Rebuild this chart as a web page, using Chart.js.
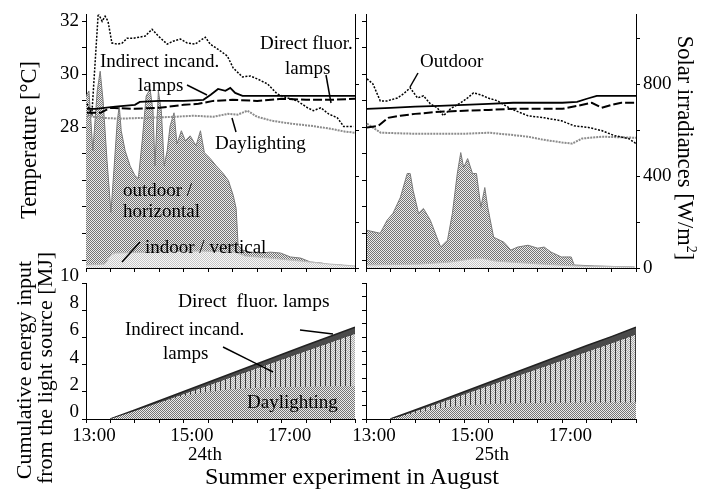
<!DOCTYPE html>
<html><head><meta charset="utf-8">
<script src="https://cdn.jsdelivr.net/npm/chart.js@4"></script>
<style>
html,body{margin:0;padding:0;background:#fff;}
#wrap{position:relative;width:712px;height:490px;overflow:hidden;font-family:"Liberation Serif","Times New Roman",serif;color:#000;background:#fff;}
canvas{position:absolute;left:0;top:0;}
.t{position:absolute;white-space:nowrap;font-size:19px;line-height:1;transform:translate(-50%,-50%);}
.l{position:absolute;white-space:nowrap;font-size:19px;line-height:1;transform:translateY(-50%);}
svg{position:absolute;left:0;top:0;}
</style></head><body>
<div id="wrap">
<canvas id="c1" width="712" height="490"></canvas>
<canvas id="c2" width="712" height="490"></canvas>
<canvas id="c3" width="712" height="490"></canvas>
<canvas id="c4" width="712" height="490"></canvas>
<svg width="712" height="490" viewBox="0 0 712 490">
<g stroke="#000" stroke-width="1.5">
<line x1="187" y1="85" x2="207" y2="95"/>
<line x1="326" y1="75" x2="331" y2="103"/>
<line x1="232" y1="118" x2="236" y2="132"/>
<line x1="418" y1="73" x2="410" y2="87"/>
<line x1="140" y1="242" x2="122" y2="262"/>
<line x1="223" y1="347" x2="273" y2="372"/>
<line x1="300" y1="330" x2="333" y2="334"/>
</g></svg>
<div class="l" style="left:100px;top:60px;">Indirect incand.</div>
<div class="l" style="left:138px;top:84px;">lamps</div>
<div class="l" style="left:260px;top:42px;">Direct fluor.</div>
<div class="l" style="left:285px;top:67px;">lamps</div>
<div class="l" style="left:215px;top:142px;">Daylighting</div>
<div class="l" style="left:420px;top:60px;">Outdoor</div>
<div class="l" style="left:123px;top:189px;">outdoor /</div>
<div class="l" style="left:123px;top:210px;">horizontal</div>
<div class="l" style="left:145px;top:246px;">indoor / vertical</div>
<div class="l" style="left:178px;top:301px;font-size:19.5px;">Direct&nbsp; fluor. lamps</div>
<div class="l" style="left:125px;top:328px;">Indirect incand.</div>
<div class="l" style="left:163px;top:352px;">lamps</div>
<div class="l" style="left:247px;top:401px;">Daylighting</div>
<div class="t" style="left:205px;top:453px;">24th</div>
<div class="t" style="left:492px;top:453px;">25th</div>
<div class="t" style="left:352px;top:476px;font-size:24px;">Summer experiment in August</div>
<div class="t" style="left:29px;top:140px;font-size:22.5px;transform:translate(-50%,-50%) rotate(-90deg);">Temperature [°C]</div>
<div class="t" style="left:24px;top:370px;font-size:22px;transform:translate(-50%,-50%) rotate(-90deg);">Cumulative energy input</div>
<div class="t" style="left:45px;top:368px;font-size:22px;transform:translate(-50%,-50%) rotate(-90deg);">from the light source [MJ]</div>
<div class="t" style="left:686px;top:148px;font-size:22.5px;transform:translate(-50%,-50%) rotate(90deg);">Solar irradiances [W/m<sup style="font-size:14px;vertical-align:9px;">2</sup>]</div>
</div>
<script>
// ---------- data (hours after 13:00) ----------
const outdoorT24 = [0.02,0.12,0.25,0.33,0.39,0.45,0.53,0.64,0.74,0.84,0.96,1.21,1.35,1.48,1.66,1.78,1.93,2.07,2.23,2.44,2.54,2.75,2.89,3.01,3.2,3.36,3.5,3.71,3.91,4.12,4.32,4.53,4.65,4.8,4.96,5.14,5.27,5.47];
const outdoor24 = [28.89,28.51,32.3,32.0,32.19,32.0,31.18,31.14,31.18,31.36,31.36,31.44,31.7,31.44,31.14,31.25,31.33,31.18,31.14,31.4,31.14,30.88,30.69,30.24,29.9,29.94,29.83,29.64,29.26,29.11,29.0,28.74,28.63,28.74,28.51,28.36,28.03,28.03];
const indirectT24 = [0.02,0.2,0.6,1.0,1.1,1.5,2.0,2.4,2.55,2.7,2.85,2.95,3.05,3.2,3.5,4.0,4.5,5.0,5.5];
const indirect24 = [28.7,28.7,28.78,28.85,28.96,29.0,29.0,29.04,29.23,29.45,29.38,29.49,29.3,29.19,29.19,29.19,29.19,29.19,29.19];
const directT24 = [0.02,0.3,0.5,1.0,1.5,2.0,2.3,2.6,3.0,3.5,4.0,4.5,5.0,5.5];
const direct24 = [28.55,28.55,28.74,28.7,28.74,28.85,28.89,29.0,29.04,29.0,29.08,29.04,29.04,29.08];
const dayT24 = [0.02,0.3,0.7,1.2,1.8,2.2,2.6,2.9,3.1,3.3,3.5,3.8,4.2,4.6,5.0,5.3,5.5];
const day24 = [28.44,28.36,28.33,28.36,28.4,28.44,28.4,28.51,28.48,28.63,28.4,28.25,28.14,28.06,27.95,27.84,27.8];

const outdoorT25 = [0.02,0.14,0.29,0.43,0.64,0.76,0.9,1.05,1.17,1.31,1.45,1.58,1.72,1.93,2.07,2.19,2.34,2.48,2.68,2.95,3.3,3.63,3.98,4.24,4.53,4.8,5.06,5.35,5.5];
const outdoor25 = [29.83,29.64,29.0,29.0,29.11,29.26,29.49,29.11,29.19,28.89,28.74,28.44,28.7,28.93,29.11,29.3,29.23,29.11,29.0,28.7,28.44,28.36,28.25,28.06,28.0,27.88,27.69,27.58,27.39];
const indirectT25 = [0.02,0.5,1.0,1.5,2.0,2.5,3.0,3.5,4.0,4.3,4.5,4.7,5.5];
const indirect25 = [28.7,28.74,28.78,28.81,28.85,28.89,28.93,28.93,28.93,28.96,29.08,29.19,29.19];
const directT25 = [0.02,0.25,0.45,0.7,1.0,1.5,2.0,2.5,3.0,3.5,4.0,4.3,4.6,4.8,5.0,5.2,5.5];
const direct25 = [28.0,28.06,28.36,28.44,28.51,28.59,28.63,28.66,28.7,28.7,28.7,28.81,28.93,28.74,28.85,28.93,28.93];
const dayT25 = [0.02,0.3,1.0,2.0,2.5,2.9,3.3,3.6,4.0,4.2,4.4,4.8,5.5];
const day25 = [28.14,27.8,27.76,27.76,27.8,27.73,27.65,27.54,27.43,27.39,27.58,27.65,27.61];

// solar irradiance W/m2
const horizT24 = [0,0.06,0.14,0.23,0.29,0.35,0.43,0.51,0.57,0.64,0.68,0.72,0.8,0.9,1.0,1.07,1.15,1.23,1.31,1.37,1.41,1.48,1.54,1.6,1.66,1.72,1.8,1.86,1.95,2.03,2.13,2.25,2.34,2.42,2.54,2.66,2.79,2.91,3.01,3.07,3.11,3.2,3.36,3.57,3.77,3.98,4.18,4.39,4.59,4.8,5.0,5.2,5.5];
const horiz24 = [748,770,510,770,856,726,467,242,424,640,705,597,510,445,402,389,554,748,778,683,445,770,683,445,510,618,675,540,597,554,575,532,597,502,476,445,415,381,316,259,99,78,69,65,69,65,48,43,26,22,13,13,4];
const vertT24 = [0,0.39,0.49,0.59,1.31,2.34,3.05,3.26,3.77,4.39,5.0,5.5];
const vert24 = [13,17,52,65,69,74,69,52,43,30,17,9];
const horizT25 = [0.02,0.29,0.43,0.55,0.7,0.84,0.9,0.96,1.07,1.17,1.31,1.52,1.66,1.76,1.86,1.93,1.99,2.07,2.17,2.25,2.34,2.42,2.48,2.6,2.81,2.95,3.09,3.3,3.5,3.63,3.77,3.98,4.18,4.24,4.65,5.47];
const horiz25 = [164,151,208,238,307,411,411,337,238,259,208,91,121,238,411,502,437,476,411,411,264,350,264,134,112,78,91,99,86,91,69,48,48,13,9,4];
const vertT25 = [0.02,1.1,1.72,2.13,2.34,2.64,3.57,4.28,5.47];
const vert25 = [13,17,26,39,43,30,17,9,4];

// cumulative energy input [MJ]
const cumTime = [0.5,1.0,1.5,2.0,2.5,3.0,3.5,4.0,4.5,5.0,5.5];
const cumDirect24 = [0,0.66,1.34,2.02,2.70,3.38,4.06,4.74,5.42,6.08,6.75];
const cumIndirect24 = [0,0.6,1.24,1.87,2.5,3.14,3.77,4.4,5.03,5.66,6.3];
const cumDay24 = [0,0.58,1.2,1.7,2.0,2.2,2.3,2.35,2.38,2.4,2.4];
const cumDirect25 = [0,0.66,1.33,2.0,2.68,3.36,4.04,4.72,5.4,6.06,6.75];
const cumIndirect25 = [0,0.6,1.22,1.85,2.48,3.1,3.72,4.35,4.98,5.6,6.25];
const cumDay25 = [0,0.45,0.8,1.0,1.1,1.15,1.18,1.2,1.21,1.22,1.22];

const tempLabels = [28,30,32];
const irrLabels = [0,400,800];
const cumLabels = [0,2,4,6,8,10];
const timeLabels = {0:'13:00',2:'15:00',4:'17:00'};

// ---------- helpers ----------
Chart.defaults.font.family = '"Liberation Serif","Times New Roman",serif';
Chart.defaults.color = '#000';
const pts = (t,v) => t.map((x,i)=>({x:x,y:v[i]}));
const baseCtx = document.getElementById('c1').getContext('2d');
function pat(w,h,draw){const c=document.createElement('canvas');c.width=w;c.height=h;draw(c.getContext('2d'));return baseCtx.createPattern(c,'repeat');}
const darkChk = pat(2,2,g=>{g.fillStyle='#ececec';g.fillRect(0,0,2,2);g.fillStyle='#747474';g.fillRect(0,0,1,1);g.fillRect(1,1,1,1);});
const lightChk = pat(2,2,g=>{g.fillStyle='#f8f8f8';g.fillRect(0,0,2,2);g.fillStyle='#c6c6c6';g.fillRect(0,0,1,1);g.fillRect(1,1,1,1);});
const vertPat = pat(10,2,g=>{g.fillStyle='#ececec';g.fillRect(0,0,10,2);g.fillStyle='#a8a8a8';for(let i=0;i<10;i+=2){g.fillRect(i,0,1,1);g.fillRect(i+1,1,1,1);}g.fillStyle='#3a3a3a';g.fillRect(0,0,1,2);g.fillRect(5,0,1,2);});

const gridT = {drawOnChartArea:false,tickLength:4,color:'#000',lineWidth:1};
const bord = {color:'#000',width:1};
const tickFont = {size:19};

function topChart(id, d, left, right, labelsLeft){
  return new Chart(document.getElementById(id), {
    type:'line',
    data:{datasets:[
      {data:pts(d.hT,d.h), yAxisID:'yI', fill:'origin', backgroundColor:darkChk, borderColor:'#7a7a7a', borderWidth:1, pointRadius:0, order:6},
      {data:pts(d.vT,d.v), yAxisID:'yI', fill:'origin', backgroundColor:lightChk, borderColor:'#bbbbbb', borderWidth:1, pointRadius:0, order:5},
      {data:pts(d.dT,d.d), yAxisID:'yT', borderColor:'#8c8c8c', borderWidth:2, borderDash:[2,1], pointRadius:0, fill:false, order:4},
      {data:pts(d.fT,d.f), yAxisID:'yT', borderColor:'#000', borderWidth:2, borderDash:[9,3], pointRadius:0, fill:false, order:3},
      {data:pts(d.iT,d.i), yAxisID:'yT', borderColor:'#000', borderWidth:1.8, pointRadius:0, fill:false, order:2},
      {data:pts(d.oT,d.o), yAxisID:'yT', borderColor:'#000', borderWidth:1.5, borderDash:[2,1.5], pointRadius:0, fill:false, order:1}
    ]},
    options:{
      responsive:false, animation:false, devicePixelRatio:1,
      layout:{padding:{left:0,right:0,top:13,bottom:216},autoPadding:false},
      plugins:{legend:{display:false},tooltip:{enabled:false}},
      elements:{line:{tension:0}},
      scales:{
        x:{type:'linear',min:0,max:5.5,position:'bottom',ticks:{display:false,stepSize:0.5,includeBounds:false},grid:gridT,border:bord,afterFit:s=>{s.height=6;}},
        yT:{type:'linear',position:'left',min:22.7,max:32.26,
            ticks:{display:labelsLeft,stepSize:1,includeBounds:false,font:tickFont,padding:3,callback:v=>tempLabels.includes(v)?String(v):''},
            grid:gridT,border:bord,afterFit:s=>{s.width=left;}},
        yI:{type:'linear',position:'right',min:0,max:1103,
            ticks:{display:!labelsLeft,stepSize:200,includeBounds:false,font:tickFont,padding:3,callback:v=>irrLabels.includes(v)?String(v):''},
            grid:gridT,border:bord,afterFit:s=>{s.width=712-right;}}
      }
    }
  });
}

function bottomChart(id, d, left, right, showLabels){
  return new Chart(document.getElementById(id), {
    type:'line',
    data:{datasets:[
      {data:pts(cumTime,d.i), fill:'origin', backgroundColor:vertPat, borderColor:'#333', borderWidth:1, pointRadius:0, order:3},
      {data:pts(cumTime,d.f), fill:'-1', backgroundColor:'#4a4a4a', borderColor:'#222', borderWidth:1.5, pointRadius:0, order:2},
      {data:pts(cumTime,d.d), fill:'origin', backgroundColor:darkChk, borderColor:'rgba(0,0,0,0)', borderWidth:0, pointRadius:0, order:1}
    ]},
    options:{
      responsive:false, animation:false, devicePixelRatio:1,
      layout:{padding:{left:0,right:712-right,top:283,bottom:0},autoPadding:false},
      plugins:{legend:{display:false},tooltip:{enabled:false}},
      elements:{line:{tension:0}},
      scales:{
        x:{type:'linear',min:0,max:5.5,position:'bottom',
           ticks:{stepSize:0.5,includeBounds:false,autoSkip:false,maxRotation:0,font:tickFont,padding:2,labelOffset:8,callback:v=>timeLabels[v]||''},
           grid:gridT,border:bord,afterFit:s=>{s.height=71;}},
        y:{type:'linear',position:'left',min:0,max:10,
           ticks:{display:showLabels,stepSize:1,font:tickFont,padding:3,labelOffset:-7,callback:v=>cumLabels.includes(v)?String(v):''},
           grid:gridT,border:bord,afterFit:s=>{s.width=left;}}
      }
    }
  });
}

topChart('c1',{hT:horizT24,h:horiz24,vT:vertT24,v:vert24,dT:dayT24,d:day24,fT:directT24,f:direct24,iT:indirectT24,i:indirect24,oT:outdoorT24,o:outdoor24},86,355,true);
topChart('c2',{hT:horizT25,h:horiz25,vT:vertT25,v:vert25,dT:dayT25,d:day25,fT:directT25,f:direct25,iT:indirectT25,i:indirect25,oT:outdoorT25,o:outdoor25},366,636,false);
bottomChart('c3',{i:cumIndirect24,f:cumDirect24,d:cumDay24},86,355,true);
bottomChart('c4',{i:cumIndirect25,f:cumDirect25,d:cumDay25},366,636,false);
</script>
</body></html>
